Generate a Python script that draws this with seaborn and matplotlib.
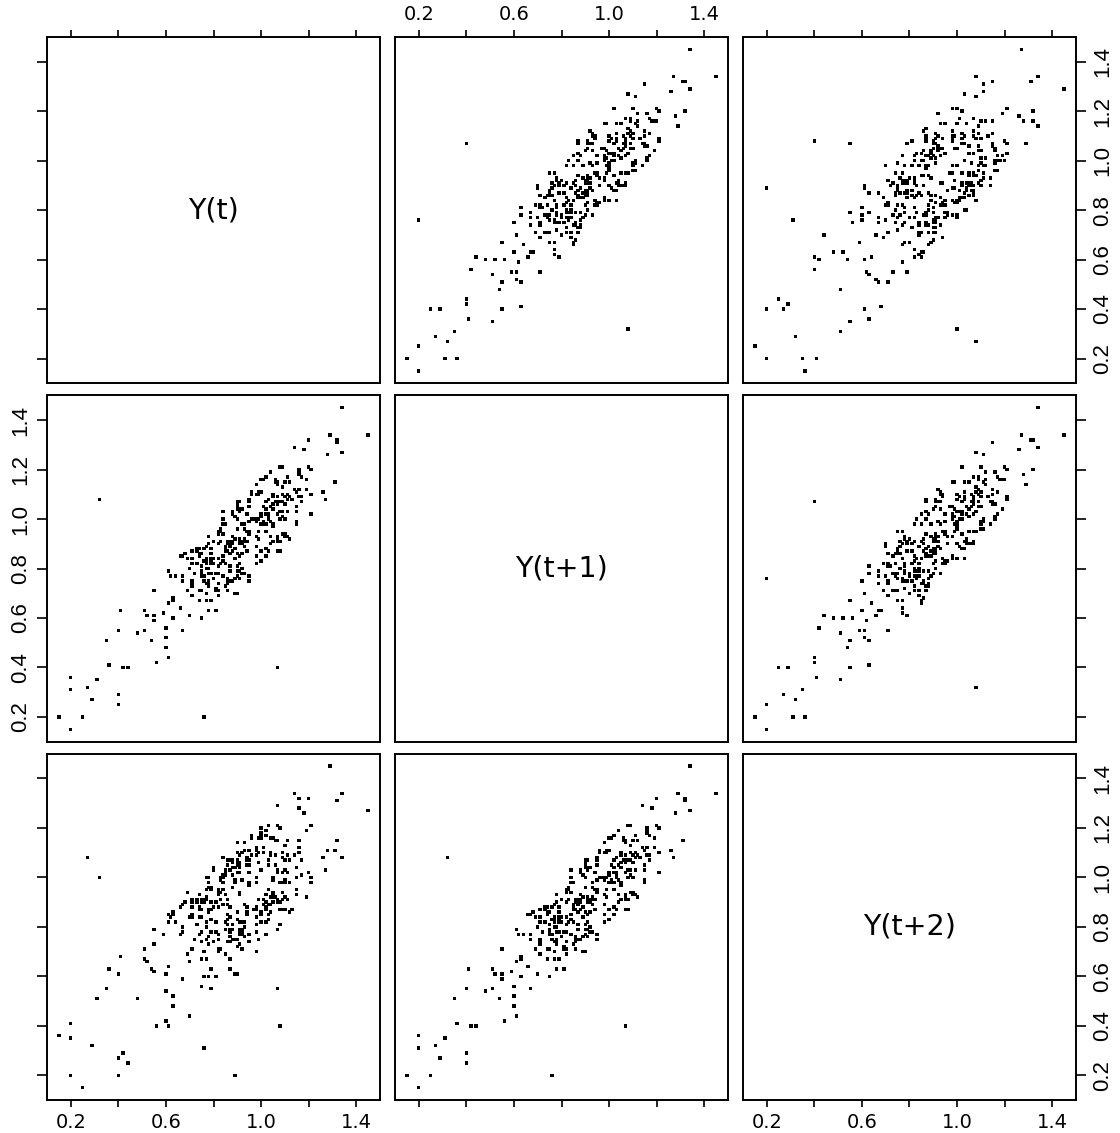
import numpy as np
import pandas as pd
import matplotlib
matplotlib.use("Agg")
import matplotlib.pyplot as plt
import seaborn as sns

series = [
    0.92, 0.98, 1.10, 1.09, 1.03, 1.02, 0.95, 0.77, 0.74, 0.67, 0.77, 0.80,
    0.91, 1.04, 1.05, 1.10, 0.93, 0.92, 0.80, 0.82, 0.74, 0.88,
    0.93, 0.96, 1.11, 1.17, 1.09, 1.01, 0.98, 0.89, 0.70, 0.61, 0.66, 0.64, 0.77,
    0.82, 0.95, 0.94, 1.02, 0.88, 0.90, 0.81, 0.72, 0.78, 0.75, 0.86,
    0.91, 1.07, 1.09, 1.21, 1.10, 1.00, 0.98, 0.82, 0.81, 0.71, 0.82, 0.90,
    0.70, 0.61, 0.44, 0.40, 0.25, 0.20, 0.15, 0.20, 0.36, 0.41, 0.63, 0.68, 0.86, 0.90,
    1.05, 1.06, 1.16, 1.09, 1.10, 0.94, 0.87, 0.86, 0.74, 0.85, 0.88,
    1.02, 1.04, 1.19, 1.16, 1.19, 1.12, 0.92, 0.86, 0.71, 0.74, 0.71, 0.84,
    0.85, 0.98, 0.93, 0.98, 0.89, 0.88, 0.75, 0.79, 0.84, 0.83,
    0.95, 0.99, 1.11, 1.10, 1.15, 0.99, 0.95, 0.75, 0.77, 0.67, 0.75, 0.78,
    0.90, 0.96, 1.10, 1.09, 1.13, 1.08, 0.87, 0.81, 0.63, 0.60, 0.52, 0.61, 0.66,
    0.85, 0.88, 1.03, 1.01, 1.05, 0.91, 0.92, 0.78, 0.78, 0.73, 0.87,
    0.90, 1.07, 1.14, 1.29, 1.34, 1.45, 1.34, 1.27, 1.08, 1.03, 0.87, 0.89,
    0.84, 0.98, 1.00, 1.11, 1.03, 1.02, 0.85, 0.82, 0.69, 0.71, 0.69, 0.84,
    0.94, 0.95, 1.05, 0.97, 1.00, 0.87, 0.86, 0.76, 0.83, 0.91,
    0.91, 1.04, 0.93, 0.89, 0.76, 0.20, 0.31, 0.35, 0.51, 0.55, 0.71, 0.73, 0.88,
    0.91, 1.07, 1.06, 1.15, 1.05, 1.04, 0.90, 0.86, 0.75, 0.81, 0.78, 0.90,
    1.00, 1.02, 1.17, 1.17, 1.07, 1.07, 0.91, 0.90, 0.79, 0.86, 0.87,
    0.91, 0.79, 0.78, 0.63, 0.60, 0.48, 0.54, 0.51, 0.63, 0.67, 0.85, 0.89, 1.01,
    0.99, 1.10, 1.06, 1.07, 0.92, 0.90, 0.77, 0.83, 0.82, 0.94,
    0.95, 1.08, 1.07, 0.40, 0.55, 0.61, 0.79, 0.82, 0.95, 0.95, 1.05, 0.98,
    0.99, 1.00, 1.16, 1.18, 1.28, 1.26, 1.11, 1.08, 0.91, 0.90, 0.79, 0.83,
    0.96, 1.00, 1.16, 1.20, 1.32, 1.32, 1.31, 1.15, 1.11, 0.93, 0.91, 0.82,
    0.94, 0.95, 1.07, 1.02, 1.02, 0.88, 0.87, 0.75, 0.78, 0.74, 0.86,
    0.87, 0.89, 0.76, 0.75, 0.60, 0.56, 0.42, 0.40, 0.29, 0.27, 0.32, 1.08, 1.00, 0.98,
    0.85, 0.87, 0.79, 0.88, 0.90, 1.06, 1.07, 1.15, 1.03, 1.00, 0.83, 0.82,
    0.71, 0.75, 0.71, 0.87, 0.91, 1.03, 1.02, 1.07, 0.93, 0.91, 0.76,
    0.77, 0.70, 0.80, 0.84, 1.03, 1.08, 1.21, 1.20, 1.21, 1.02, 0.98, 0.82,
    0.84, 0.77, 0.89, 0.92, 1.04, 0.99, 0.92, 0.91, 0.79, 0.82,
    0.78, 0.93, 0.98, 1.14, 1.12, 1.09, 1.07, 0.87, 0.79, 0.67, 0.55, 0.59, 0.62,
    0.77, 0.84, 1.00, 1.01, 1.16, 1.12, 1.15, 0.98, 0.93, 0.78, 0.80, 0.76,
    0.88, 0.90, 1.04, 1.05, 1.09, 0.94, 0.91, 0.85, 0.73, 0.82, 0.81,
]
var_names = ["Y(t)", "Y(t+1)", "Y(t+2)"]
tick_values = [0.2, 0.4, 0.6, 0.8, 1.0, 1.2, 1.4]
x_tick_labels = ["0.2", "", "0.6", "", "1.0", "", "1.4"]
y_tick_labels = ["0.2", "0.4", "0.6", "0.8", "1.0", "1.2", "1.4"]

sns.set_theme(style="ticks")
plt.rcParams["font.family"] = ["DejaVu Sans"]

y = np.array(series)
df = pd.DataFrame({var_names[0]: y[:-2], var_names[1]: y[1:-1], var_names[2]: y[2:]})

g = sns.PairGrid(df, vars=var_names, height=3.7, despine=False)
g.map_offdiag(sns.scatterplot, color="black", marker="s", s=6, linewidth=0, edgecolor="none")

fig = g.figure
fig.set_size_inches(11.2, 11.33)

for i in range(3):
    for j in range(3):
        ax = g.axes[i, j]
        ax.set_xlim(0.1, 1.5)
        ax.set_ylim(0.1, 1.5)
        ax.set_xlabel("")
        ax.set_ylabel("")
        ax.set_facecolor("white")
        for sp in ax.spines.values():
            sp.set_visible(True)
            sp.set_color("black")
            sp.set_linewidth(1.4)
        ax.set_xticks(tick_values, x_tick_labels)
        ax.set_yticks(tick_values, y_tick_labels)
        ax.tick_params(axis="both", which="both", direction="out", width=1.2,
                       color="black", labelcolor="black",
                       top=(i == 0), bottom=(i == 2), left=(j == 0), right=(j == 2),
                       labeltop=(i == 0 and j == 1), labelbottom=(i == 2 and j in (0, 2)),
                       labelleft=(j == 0 and i == 1), labelright=(j == 2 and i in (0, 2)))
        ax.tick_params(axis="x", length=5, pad=4, labelsize=14, labelfontfamily="DejaVu Sans")
        ax.tick_params(axis="y", length=7.5, pad=4, labelsize=16, labelrotation=90,
                       labelfontfamily="Liberation Sans")
        for lab in ax.get_yticklabels():
            lab.set_va("center")
        if i == j:
            ax.text(0.5, 0.5, var_names[i], transform=ax.transAxes, ha="center", va="center",
                    fontsize=20.5, color="black", family="DejaVu Sans")

fig.subplots_adjust(left=47/1120, right=1076/1120, top=1-37/1133, bottom=1-1100/1133,
                    wspace=0.045, hspace=0.035)
fig.savefig("out.png", dpi=100, facecolor="white")
